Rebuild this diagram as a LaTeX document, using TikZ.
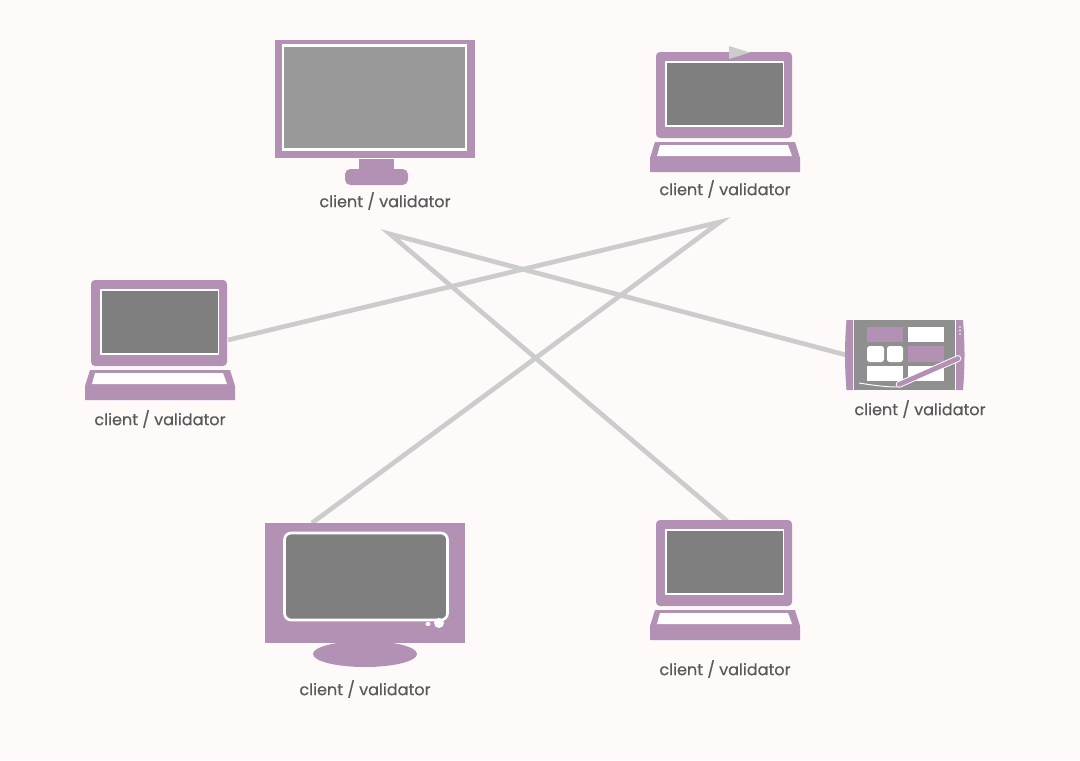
\documentclass[tikz,border=0pt]{standalone}
\usepackage{fontspec}
\setmainfont[FakeBold=0.35]{Poppins}
\definecolor{bgc}{HTML}{FEFAF9}
\definecolor{plum}{HTML}{B291B5}
\definecolor{scr}{HTML}{7F7F7F}
\definecolor{scrl}{HTML}{999999}
\definecolor{tabg}{HTML}{8F8F8F}
\definecolor{wire}{HTML}{CCCCCC}
\definecolor{txt}{HTML}{595959}
\tikzset{
  x=0.75pt,y=-0.75pt,
  wireline/.style={draw=wire,line width=3.5pt,line join=miter},
  body/.style={fill=plum,draw=none},
  glass/.style={fill=white,draw=none},
  lbl/.style={text=txt,font=\fontsize{12}{14}\selectfont,inner sep=0pt,anchor=center},
  laptop/.pic={
    \fill[body,rounded corners=3pt] (6,0) rectangle (142,86);
    \fill[glass] (15,9) rectangle (134,75);
    \fill[scr] (17,11) rectangle (132.5,73);
    \fill[body] (5,90) -- (145,90) -- (150,106) -- (150,120) -- (0,120) -- (0,106) -- cycle;
    \fill[glass] (10,93) -- (138,93) -- (142,104) -- (7,104) -- cycle;
  }
}
\begin{document}
\begin{tikzpicture}
\useasboundingbox (0,0) rectangle (1080,760);
\fill[bgc] (0,0) rectangle (1080,760);

% connector end points
\coordinate (hubA) at (390,234);
\coordinate (hubB) at (720,222);
\coordinate (tabletEnd) at (846,355);
\coordinate (leftEnd) at (228,340);
\coordinate (tvEnd) at (312,523);
\coordinate (lapEnd) at (727,521);

\draw[wireline] (tabletEnd) -- (hubA) -- (lapEnd);
\draw[wireline] (leftEnd) -- (hubB) -- (tvEnd);

% desktop monitor
\fill[body] (275,40) rectangle (475,158);
\fill[glass] (282,44) rectangle (467,151);
\fill[scrl] (284,47) rectangle (465,148);
\fill[body] (359,159) rectangle (394,170);
\fill[body,rounded corners=4pt] (345,169) rectangle (408,185);
\node[lbl] (labelDesk) at (385,201) {client / validator};

% laptops
\pic at (650,52) {laptop};
\fill[wire] (729,46) -- (750,52.5) -- (729,59) -- cycle;
\node[lbl] (labelLapTop) at (725,189) {client / validator};
\pic at (85,280) {laptop};
\node[lbl] (labelLapLeft) at (160,419) {client / validator};
\pic at (650,520) {laptop};
\node[lbl] (labelLapBottom) at (725,669) {client / validator};

% tablet
\fill[tabg] (854,320) rectangle (955,390);
\fill[body] (846.5,320) -- (853,320) -- (853,390) -- (846.5,390) .. controls (844.5,365) and (844.5,345) .. (846.5,320) -- cycle;
\fill[body] (956,320) -- (963,320) .. controls (965,345) and (965,365) .. (963,390) -- (956,390) -- cycle;
\fill[plum] (867,327) rectangle (903,342);
\fill[white] (908,327) rectangle (944,342);
\fill[white,rounded corners=2pt] (867,346) rectangle (884,362);
\fill[white,rounded corners=2pt] (887,346) rectangle (903,362);
\fill[plum] (908,346) rectangle (944,362);
\fill[white] (867,366) rectangle (903,381);
\fill[white] (908,366) rectangle (944,381);
\draw[white,line width=0.7pt] (859,383) .. controls (872,385) and (885,387) .. (897,387);
\draw[white,line width=5pt,line cap=round] (899,384.5) -- (958,358.5);
\draw[plum,line width=3.6pt,line cap=round] (899,384.5) -- (958,358.5);
\fill[white] (960,327) circle (0.8);
\fill[white] (960,330.5) circle (0.8);
\fill[white] (960,334) circle (0.8);
\node[lbl] (labelTablet) at (920,409) {client / validator};

% tv
\fill[body] (365,654) ellipse (52 and 13);
\fill[body] (265,522.5) rectangle (465,643);
\draw[white,fill=scr,line width=2pt,rounded corners=5pt] (284.5,533) rectangle (447.5,620);
\fill[white] (439,623) circle (5);
\fill[white] (428,624) ellipse (2.6 and 2);
\node[lbl] (labelTv) at (365,689) {client / validator};
\end{tikzpicture}
\end{document}
